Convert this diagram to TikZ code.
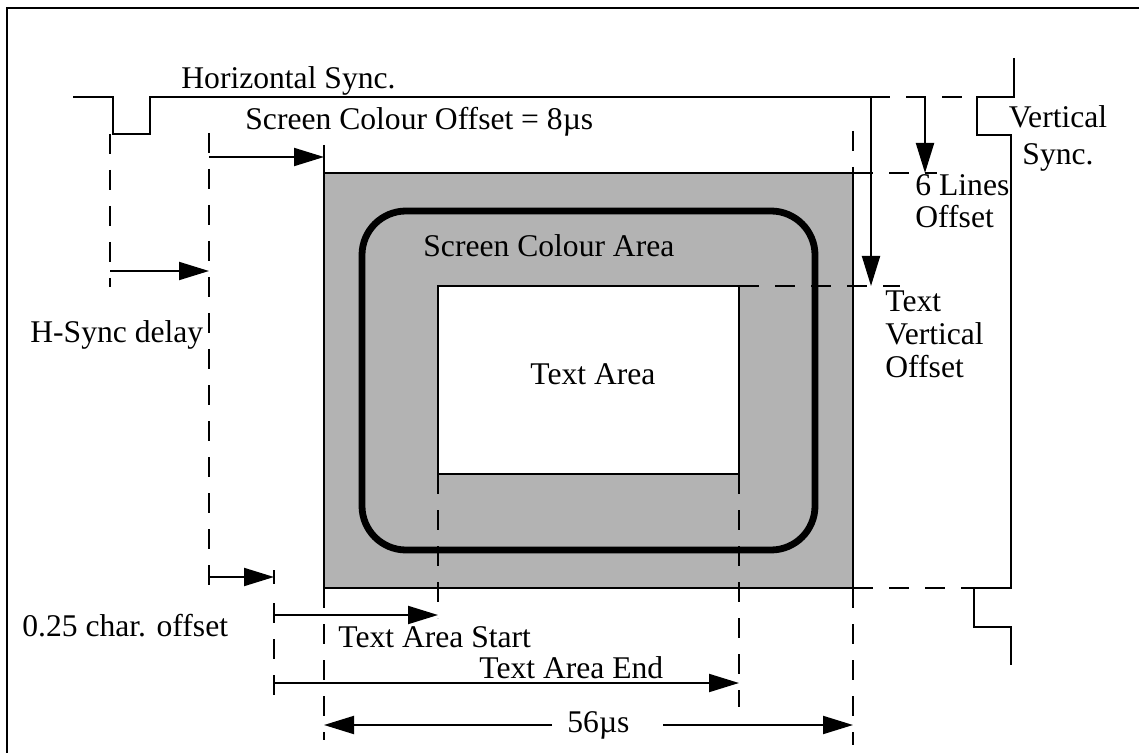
\documentclass[tikz,border=0pt]{standalone}
\usepackage{fontspec}
\setmainfont{Liberation Serif}
\usetikzlibrary{arrows.meta}
\definecolor{scgray}{RGB}{179,179,179}
\begin{document}
\begin{tikzpicture}[x=0.5pt,y=-0.5pt,
  solid line/.style={line width=1.4pt},
  dashline/.style={line width=1.4pt, dash pattern=on 10pt off 8pt},
  dim/.style={line width=1pt, -{Triangle[length=15pt,width=9pt]}},
  lbl/.style={inner sep=0pt, anchor=base west, font=\fontsize{15.8}{16.4}\selectfont},
  clbl/.style={inner sep=0pt, anchor=base, font=\fontsize{15.8}{18.5}\selectfont},
]
\useasboundingbox (0,0) rectangle (1139,753);
% frame (top and left only visible)
\draw[line width=1.4pt] (7,753) -- (7,8) -- (1139,8);

% screen colour area
\coordinate (sTL) at (324,173);
\coordinate (sBR) at (853,588);
\draw[solid line, fill=scgray] (sTL) rectangle (sBR);
\draw[line width=3.4pt, rounded corners=22pt] (362,211) rectangle (815,550);
\coordinate (tTL) at (438,286);
\coordinate (tBR) at (739,474);
\draw[solid line, fill=white] (tTL) rectangle (tBR);

% horizontal sync
\draw[solid line] (73,97) -- (113,97) -- (113,134) -- (150,134) -- (150,97) -- (870,97);
\draw[dashline] (870,97) -- (977,97);
% vertical sync
\draw[solid line] (1014,58) -- (1014,97) -- (977,97) -- (977,135) -- (1011,135)
  -- (1011,588) -- (974,588) -- (974,627) -- (1011,627) -- (1011,665);

% dashed guide lines
\draw[dashline] (853,588) -- (974,588);
\draw[dashline] (853,173) -- (937,173);
\draw[dashline] (739,286) -- (900,286);
\draw[dashline] (853,131) -- (853,173);
\draw[dashline] (110,134) -- (110,287);
\draw[dashline] (209,133) -- (209,597);
\draw[dashline] (274,603) -- (274,699);
\draw[dashline] (324,588) -- (324,740);
\draw[dashline] (438,474) -- (438,618);
\draw[dashline] (739,474) -- (739,707);
\draw[dashline] (853,588) -- (853,745);
% ticks
\draw[solid line] (324,145) -- (324,173);
\draw[solid line] (274,570) -- (274,584);

% coordinates for dimension arrows
\coordinate (hsA) at (110,271);   \coordinate (hsB) at (209,271);
\coordinate (scA) at (209,157);   \coordinate (scB) at (324,157);
\coordinate (qA) at (209,577);    \coordinate (qB) at (274,577);
\coordinate (tsA) at (274,615);   \coordinate (tsB) at (438,615);
\coordinate (teA) at (274,683);   \coordinate (teB) at (739,683);
\coordinate (fL) at (324,725);    \coordinate (fR) at (853,725);
\coordinate (g1) at (552,725);    \coordinate (g2) at (663,725);
\coordinate (slA) at (925,97);    \coordinate (slB) at (925,173);
\coordinate (tvA) at (871,97);    \coordinate (tvB) at (871,286);

\draw[dim] (hsA) -- (hsB);
\draw[dim] (scA) -- (scB);
\draw[dim] (qA) -- (qB);
\draw[dim] (tsA) -- (tsB);
\draw[dim] (teA) -- (teB);
\draw[dim] (g1) -- (fL);
\draw[dim] (g2) -- (fR);
\draw[dim] (slA) -- (slB);
\draw[dim] (tvA) -- (tvB);

% labels (multi-line nodes: base anchor = last line's baseline)
\node[lbl] (lhs) at (181,89) {Horizontal Sync.};
\node[lbl] (lsco) at (245,130) {Screen Colour Offset = 8µs};
\node[clbl, align=center] (lvs) at (1058,165) {Vertical\\Sync.};
\node[lbl, align=left] (l6) at (915,228) {6 Lines\\Offset};
\node[lbl, align=left] (ltvo) at (885,377) {Text\\Vertical\\Offset};
\node[lbl] (lsca) at (423,257) {Screen Colour Area};
\node[lbl] (lta) at (530,385) {Text Area};
\node[lbl] (lhsd) at (30,343) {H-Sync delay};
\node[lbl] (lq) at (22,636) {0.25 char. offset};
\node[lbl] (ltas) at (338,647) {Text Area Start};
\node[lbl] (ltae) at (479,678) {Text Area End};
\node[lbl] (l56) at (567,732) {56µs};
\end{tikzpicture}
\end{document}
